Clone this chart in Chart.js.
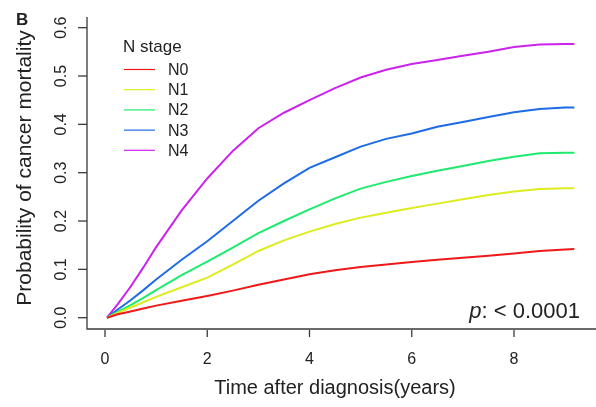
<!DOCTYPE html>
<html>
<head>
<meta charset="utf-8">
<script src="https://cdn.jsdelivr.net/npm/chart.js@4"></script>
<style>
  html, body { margin: 0; padding: 0; background: #fff; }
  #wrap { width: 596px; height: 407px; position: relative; }
</style>
</head>
<body>
<div id="wrap"><canvas id="cifChart"></canvas></div>
<script>
// time points (years) shared by every curve
const times = [0.04, 0.25, 0.5, 0.75, 1, 1.5, 2, 2.5, 3, 3.5, 4, 4.5, 5, 5.5, 6, 6.5, 7, 7.5, 8, 8.5, 9, 9.18];

const stageNames = ["N0", "N1", "N2", "N3", "N4"];
const stageColors = ["#F01818", "#DCEC1E", "#1EEB6E", "#1E6BE6", "#CC22EE"];

const n0 = [0, 0.007, 0.013, 0.019, 0.025, 0.035, 0.045, 0.056, 0.068, 0.079, 0.09, 0.098, 0.105, 0.11, 0.115, 0.12, 0.124, 0.128, 0.133, 0.138, 0.141, 0.142];
const n1 = [0, 0.01, 0.021, 0.032, 0.043, 0.063, 0.083, 0.11, 0.138, 0.16, 0.178, 0.194, 0.207, 0.217, 0.227, 0.236, 0.245, 0.254, 0.261, 0.266, 0.268, 0.268];
const n2 = [0, 0.012, 0.026, 0.041, 0.057, 0.088, 0.116, 0.145, 0.175, 0.2, 0.224, 0.247, 0.267, 0.281, 0.293, 0.304, 0.314, 0.324, 0.333, 0.34, 0.341, 0.341];
const n3 = [0, 0.017, 0.036, 0.057, 0.079, 0.12, 0.158, 0.2, 0.242, 0.278, 0.31, 0.332, 0.354, 0.37, 0.381, 0.395, 0.405, 0.415, 0.425, 0.432, 0.435, 0.435];
const n4 = [0, 0.028, 0.064, 0.104, 0.146, 0.222, 0.288, 0.345, 0.392, 0.424, 0.45, 0.475, 0.497, 0.513, 0.525, 0.533, 0.542, 0.55, 0.56, 0.565, 0.566, 0.566];

const xTicks = [0, 2, 4, 6, 8];
const yTicks = [0, 0.1, 0.2, 0.3, 0.4, 0.5, 0.6];

(() => {
  if (typeof Chart === "undefined") return;

  const series = [n0, n1, n2, n3, n4];
  const font = "'Liberation Sans', Arial, sans-serif";
  const ink = "#222";

  // R-style axes, labels and legend drawn on top of the canvas
  const rAxes = {
    id: "rAxes",
    afterDraw(chart) {
      const { ctx, chartArea: area, scales: { x, y } } = chart;
      ctx.save();
      ctx.strokeStyle = "#3a3a3a";
      ctx.lineWidth = 1.3;

      // L box
      ctx.beginPath();
      ctx.moveTo(area.left, area.top);
      ctx.lineTo(area.left, area.bottom);
      ctx.lineTo(area.right, area.bottom);
      ctx.stroke();

      ctx.fillStyle = ink;

      // x ticks
      ctx.font = "16px " + font;
      ctx.textAlign = "center";
      ctx.textBaseline = "alphabetic";
      xTicks.forEach((t) => {
        const px = x.getPixelForValue(t);
        ctx.beginPath();
        ctx.moveTo(px, area.bottom + 1);
        ctx.lineTo(px, area.bottom + 8);
        ctx.stroke();
        ctx.fillText(String(t), px, 364);
      });

      // y ticks (rotated labels)
      yTicks.forEach((v) => {
        const py = y.getPixelForValue(v);
        ctx.beginPath();
        ctx.moveTo(area.left - 9, py);
        ctx.lineTo(area.left, py);
        ctx.stroke();
        ctx.save();
        ctx.translate(66, py);
        ctx.rotate(-Math.PI / 2);
        ctx.fillText(v.toFixed(1), 0, 0);
        ctx.restore();
      });

      // axis titles
      ctx.font = "20px " + font;
      ctx.fillText("Time after diagnosis(years)", 335, 394);
      ctx.save();
      ctx.font = "21px " + font;
      ctx.translate(31, 168);
      ctx.rotate(-Math.PI / 2);
      ctx.fillText("Probability of cancer mortality", 0, 0);
      ctx.restore();

      // panel letter
      ctx.font = "bold 17px " + font;
      ctx.textAlign = "left";
      ctx.fillText("B", 16, 25);

      // legend
      ctx.font = "17px " + font;
      ctx.fillText("N stage", 123, 52);
      ctx.font = "16px " + font;
      chart.data.datasets.forEach((ds, i) => {
        const ly = 69.5 + i * 20.2;
        ctx.strokeStyle = ds.borderColor;
        ctx.lineWidth = 1.2;
        ctx.beginPath();
        ctx.moveTo(124, ly);
        ctx.lineTo(155, ly);
        ctx.stroke();
        ctx.textBaseline = "middle";
        ctx.fillText(ds.label, 168, ly + 1);
      });

      // p value
      ctx.textBaseline = "alphabetic";
      ctx.textAlign = "right";
      ctx.font = "22px " + font;
      const rest = ": < 0.0001";
      ctx.fillText(rest, 580, 318);
      const restW = ctx.measureText(rest).width;
      ctx.font = "italic 22px " + font;
      ctx.fillText("p", 580 - restW, 318);

      ctx.restore();
    }
  };

  const canvas = document.getElementById("cifChart");

  new Chart(canvas, {
    type: "line",
    data: {
      datasets: series.map((vals, i) => ({
        label: stageNames[i],
        data: times.map((t, k) => ({ x: t, y: vals[k] })),
        borderColor: stageColors[i],
        borderWidth: 2,
        pointRadius: 0,
        tension: 0,
        fill: false
      }))
    },
    options: {
      responsive: true,
      maintainAspectRatio: false,
      animation: false,
      layout: {
        padding: { left: 87, top: 17, right: 0, bottom: 78 }
      },
      plugins: {
        legend: { display: false },
        tooltip: { enabled: false }
      },
      scales: {
        x: { type: "linear", min: -0.352, max: 9.604, display: false },
        y: { type: "linear", min: -0.0234, max: 0.6221, display: false }
      }
    },
    plugins: [rAxes]
  });
})();
</script>
</body>
</html>
